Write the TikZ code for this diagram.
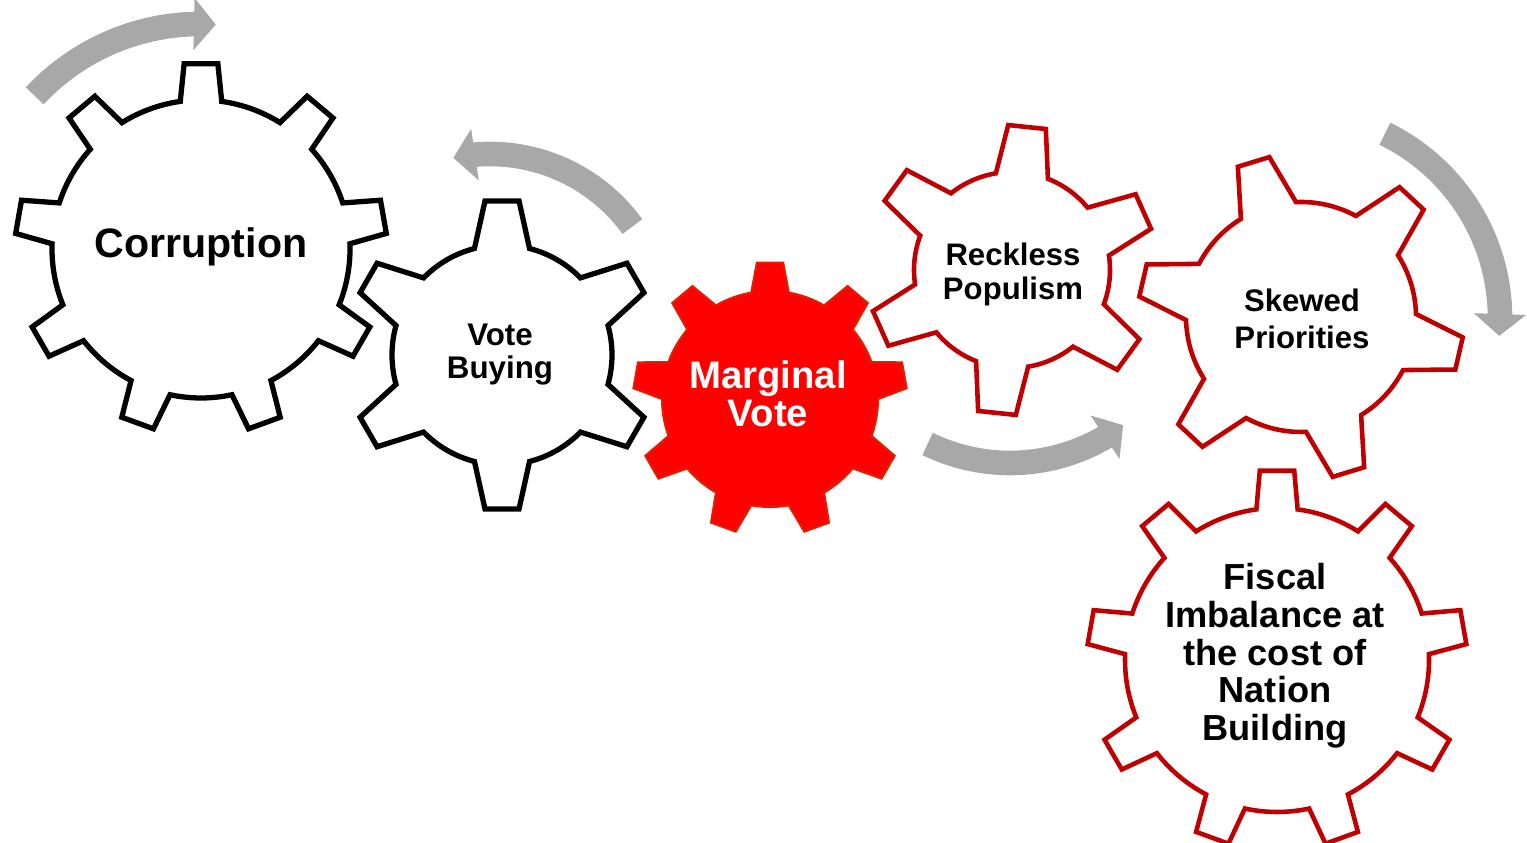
\documentclass[tikz,border=0pt]{standalone}
\usepackage{fontspec}
\setmainfont{Liberation Sans}
\usetikzlibrary{arrows.meta,bending}

\definecolor{gearred}{RGB}{192,0,0}
\definecolor{hubred}{RGB}{255,0,0}
\definecolor{hubedge}{RGB}{225,30,0}
\definecolor{turngray}{RGB}{168,168,168}

% #1 style, #2/#3 centre, #4 teeth, #5 angle of first tooth,
% #6 root radius, #7 tip radius, #8 half angle at root, #9 half angle at tip
\newcommand\drawgear[9]{%
  \pgfmathsetmacro\gstep{360/#4}%
  \draw[#1,shift={(#2,#3)}] ({#5-#8}:#6)
    \foreach \k in {1,...,#4}{
      -- ({#5+(\k-1)*\gstep-#9}:#7) -- ({#5+(\k-1)*\gstep+#9}:#7)
      -- ({#5+(\k-1)*\gstep+#8}:#6)
      arc[start angle={#5+(\k-1)*\gstep+#8}, end angle={#5+\k*\gstep-#8}, radius=#6]
    } -- cycle;}

\tikzset{
  blackgear/.style={draw=black, fill=white, line width=1.5pt, line join=miter},
  redgear/.style={draw=gearred, fill=white, line width=1.3pt, line join=miter},
  hubgear/.style={draw=hubedge, fill=hubred, line width=0.6pt, line join=miter},
  turnarrow/.style={draw=turngray, line width=7pt, -{Triangle[width=14.5pt,length=6.2pt]}},
  label/.style={inner sep=0pt, align=center, text=black},
}

\begin{document}
\begin{tikzpicture}[x=0.01cm, y=0.01cm]
  \fill[white] (0,0) rectangle (1527,843);
  \useasboundingbox (0,0) rectangle (1527,843);

  % rotation arrows
  \draw[turnarrow] (200,593) ++(137:226) arc[start angle=137, end angle=86, radius=226];
  \draw[turnarrow] (490,513) ++(36:176) arc[start angle=36, end angle=102, radius=176];
  \draw[turnarrow] (1010,568) ++(-116:188) arc[start angle=-116, end angle=-53, radius=188];
  \draw[turnarrow] (1295,525) ++(64:205) arc[start angle=64, end angle=-5, radius=205];

  % gears
  \drawgear{blackgear}{201}{594}{9}{90}{149}{186}{8}{5.2}
  \drawgear{blackgear}{502}{488}{6}{90}{110}{155}{14.5}{6.3}
  \drawgear{hubgear}{770}{444}{9}{90}{108}{137}{10}{5.5}
  \drawgear{redgear}{1012}{573}{6}{84}{98}{145}{15.5}{7.5}
  \drawgear{redgear}{1301}{526}{6}{107}{115}{163}{14.5}{5.8}
  \drawgear{redgear}{1277}{183}{9}{90}{152}{190}{7.8}{5.2}

  % labels
  \node[label, anchor=base, font=\fontsize{11.7}{12}\selectfont\bfseries]
    (corruption) at (201,585) {Corruption};
  \node[label, anchor=north, font=\fontsize{8.9}{9.4}\selectfont\bfseries]
    (votebuying) at (500,520) {Vote\\Buying};
  \node[label, anchor=north, text=white, font=\fontsize{10.9}{10.8}\selectfont\bfseries]
    (marginal) at (768,483) {Marginal\\Vote};
  \node[label, anchor=north, font=\fontsize{8.85}{9.7}\selectfont\bfseries]
    (populism) at (1013,601) {Reckless\\Populism};
  \node[label, anchor=north, font=\fontsize{8.86}{10.5}\selectfont\bfseries]
    (priorities) at (1302,555) {Skewed\\Priorities};
  \node[label, anchor=north, font=\fontsize{10.3}{10.7}\selectfont\bfseries]
    (fiscal) at (1275,280) {Fiscal\\Imbalance at\\the cost of\\Nation\\Building};
\end{tikzpicture}
\end{document}
